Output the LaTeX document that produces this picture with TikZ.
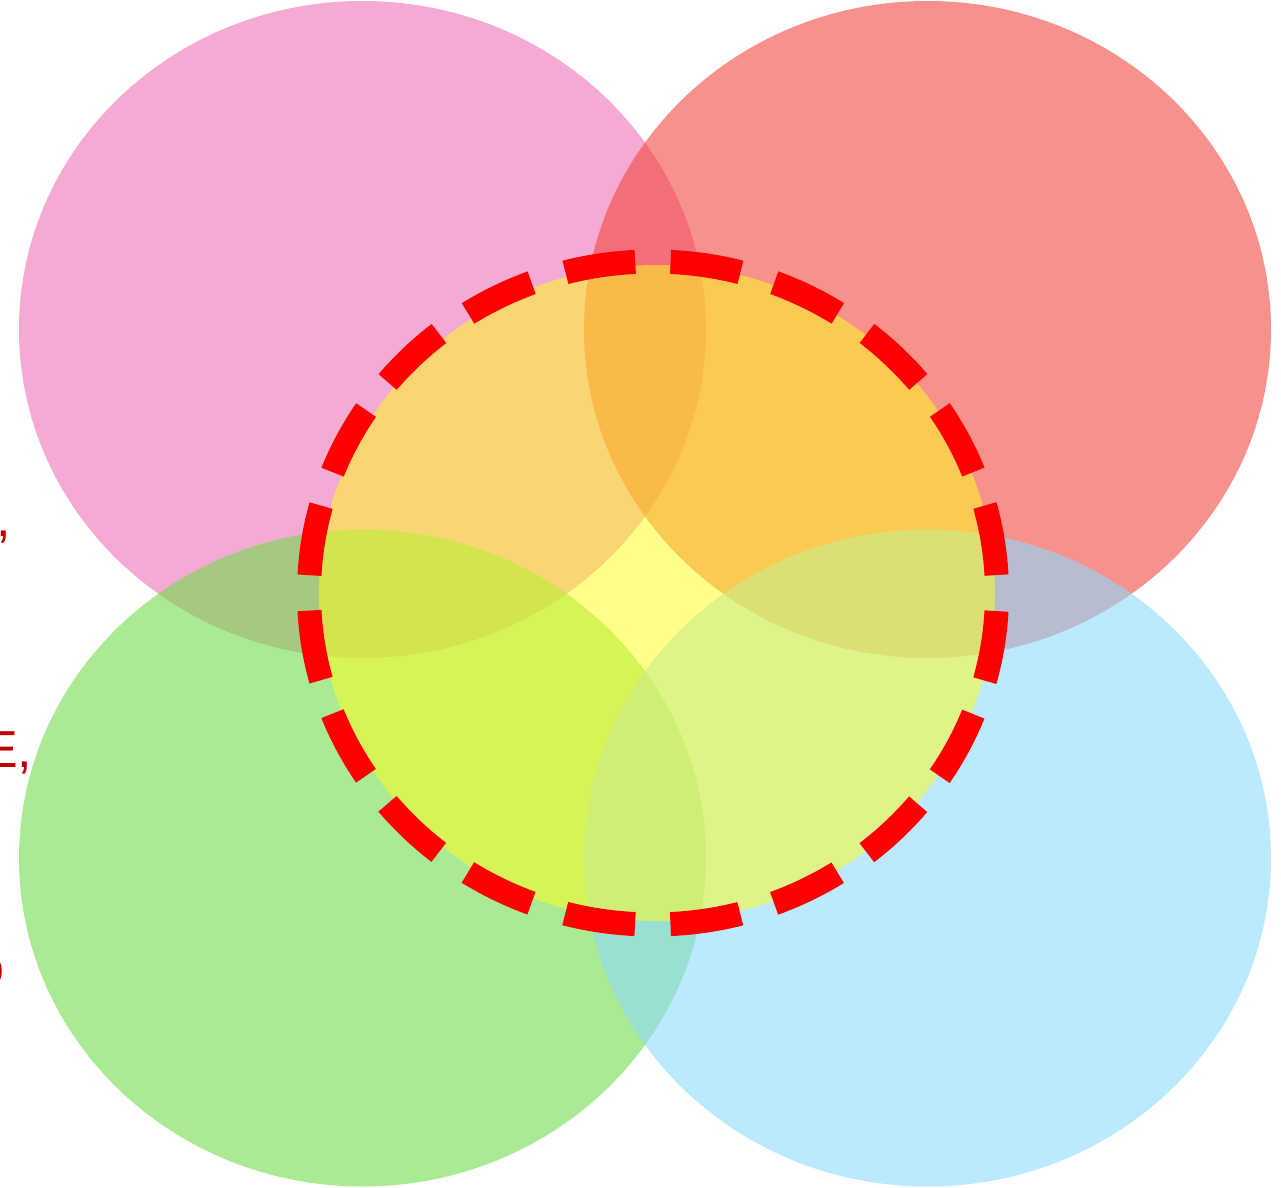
\documentclass[tikz,border=0pt]{standalone}
\usepackage{fontspec}
\setmainfont{Liberation Sans}
\definecolor{cpink}{RGB}{237,113,180}
\definecolor{csalmon}{RGB}{240,72,62}
\definecolor{cgreen}{RGB}{115,220,78}
\definecolor{cblue}{RGB}{142,218,252}
\definecolor{cyel}{RGB}{255,255,30}
\definecolor{cdash}{RGB}{255,0,0}
\definecolor{ctext}{RGB}{192,0,0}
\tikzset{
  blob/.style={opacity=0.6},
  hub/.style={fill=cyel, opacity=0.52},
  ring/.style={draw=cdash, line width=0.24cm, dash pattern=on 70.7*0.01cm off 35.4*0.01cm, dash phase=88*0.01cm},
  frag/.style={text=ctext, inner sep=0pt, anchor=base east, font=\fontsize{14.8pt}{17pt}\selectfont}
}
\begin{document}
\begin{tikzpicture}[x=0.01cm,y=-0.01cm]
\useasboundingbox (0,0) rectangle (1281,1188);
% text fragments cut by the left edge
\node[frag] (t1) at (11.5,537) {,};
\node[frag] (t2) at (33,767) {E,};
\node[frag] (t3) at (5,985) {o};
% four circles
\fill[cpink, blob] (362.5,329.5) ellipse [x radius=343.5, y radius=328.5];
\fill[csalmon, blob] (927.5,329.5) ellipse [x radius=343.5, y radius=328.5];
\fill[cgreen, blob] (362.5,858) ellipse [x radius=343.5, y radius=328.5];
\fill[cblue, blob] (927.5,858) ellipse [x radius=343.5, y radius=328.5];
% central circle
\fill[hub] (657,593) ellipse [x radius=338, y radius=328];
\draw[ring] (653,593) ellipse [x radius=344, y radius=331.5];
\end{tikzpicture}
\end{document}
